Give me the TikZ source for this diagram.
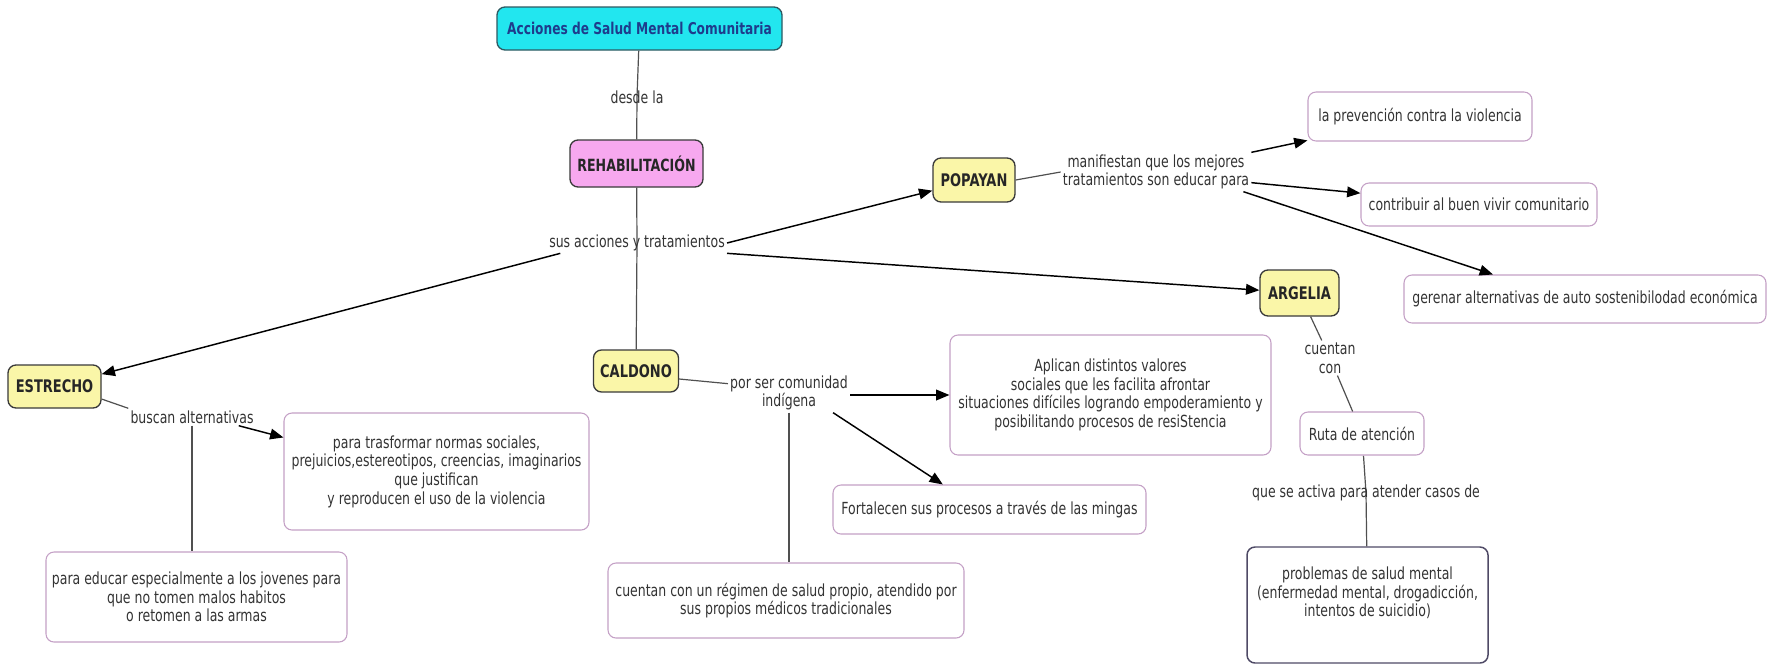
\documentclass[tikz,border=0pt]{standalone}
\usepackage{fontspec}
\setmainfont{DejaVu Sans}[FakeStretch=0.75]
\usetikzlibrary{arrows.meta,backgrounds}
\definecolor{txt}{HTML}{333333}
\definecolor{cyanc}{HTML}{22E6EF}
\definecolor{topline}{HTML}{2E5A62}
\definecolor{topblue}{HTML}{1E3C8C}
\definecolor{pinkc}{HTML}{F7A8EF}
\definecolor{yell}{HTML}{FAF6A8}
\definecolor{darkline}{HTML}{3A3A3A}
\definecolor{boxline}{HTML}{C4A0C6}
\definecolor{probline}{HTML}{4F4A66}
\definecolor{linec}{HTML}{505050}
\begin{document}
\begin{tikzpicture}[x=0.75pt,y=-0.75pt,
  every node/.style={font=\fontsize{12.5}{14}\selectfont, text=txt},
  box/.style={draw=boxline, line width=0.8pt, rounded corners=6pt, fill=white, align=center, inner sep=2pt},
  place/.style={draw=darkline, line width=1pt, rounded corners=6pt, fill=yell, font=\fontsize{13}{15}\selectfont\bfseries, text=black!85, inner sep=0pt},
  lbl/.style={inner sep=1.5pt, align=center},
  link/.style={draw=linec, line width=0.9pt},
  arr/.style={draw=black, line width=1.1pt, -{Triangle[length=10pt,width=8pt]}}
]
\useasboundingbox (0,0) rectangle (1773,665);

% main nodes
\node[draw=topline, fill=cyanc, line width=1pt, rounded corners=6pt, font=\fontsize{12.2}{14}\selectfont\bfseries, text=topblue, minimum width=213.75pt, minimum height=32.25pt, inner sep=0pt] (top) at (639.5,28.5) {Acciones de Salud Mental Comunitaria};
\node[place, fill=pinkc, font=\fontsize{12.6}{15}\selectfont\bfseries, minimum width=99.75pt, minimum height=35.25pt] (rehab) at (636.5,163.5) {REHABILITACIÓN};
\node[place, minimum width=69.75pt, minimum height=32.25pt] (estrecho) at (54.5,386.5) {ESTRECHO};
\node[place, minimum width=63.75pt, minimum height=31.5pt] (caldono) at (636,371) {CALDONO};
\node[place, minimum width=61.5pt, minimum height=33pt] (popayan) at (974,180) {POPAYAN};
\node[place, minimum width=59.25pt, minimum height=34.5pt] (argelia) at (1299.5,293) {ARGELIA};

% concept boxes
\node[box, minimum width=228.75pt, minimum height=87.75pt] (trans) at (436.5,471.5) {para trasformar normas sociales,\\prejuicios,estereotipos, creencias, imaginarios\\que justifican\\y reproducen el uso de la violencia};
\node[box, minimum width=225.75pt, minimum height=67.5pt] (educar) at (196.5,597) {para educar especialmente a los jovenes para\\que no tomen malos habitos\\o retomen a las armas};
\node[box, minimum width=240.75pt, minimum height=90pt] (aplican) at (1110.5,395) {Aplican distintos valores\\sociales que les facilita afrontar\\situaciones difíciles logrando empoderamiento y\\posibilitando procesos de resiStencia};
\node[box, minimum width=234.75pt, minimum height=36.75pt] (fort) at (989.5,509.5) {Fortalecen sus procesos a través de las mingas};
\node[box, minimum width=267pt, minimum height=56.25pt] (regimen) at (786,600.5) {cuentan con un régimen de salud propio, atendido por\\sus propios médicos tradicionales};
\node[box, minimum width=168pt, minimum height=36.75pt] (prev) at (1420,116.5) {la prevención contra la violencia};
\node[box, minimum width=177pt, minimum height=32.25pt] (contrib) at (1479,204.5) {contribuir al buen vivir comunitario};
\node[box, minimum width=271.5pt, minimum height=36pt] (gerenar) at (1585,299) {gerenar alternativas de auto sostenibilodad económica};
\node[box, minimum width=93pt, minimum height=32.25pt] (ruta) at (1362,433.5) {Ruta de atención};
\node[box, draw=probline, line width=1.1pt, minimum width=180.75pt, minimum height=87pt] (problemas) at (1367.5,605) {problemas de salud mental\\(enfermedad mental, drogadicción,\\intentos de suicidio)\\[6pt]\mbox{}};

% link labels
\node[lbl] (desde) at (637,97) {desde la};
\node[lbl] (sus) at (637,243) {sus acciones y tratamientos};
\node[lbl] (buscan) at (192,417) {buscan alternativas};
\node[lbl] (porser) at (789,393) {por ser comunidad\\indígena};
\node[lbl] (manif) at (1156,172) {manifiestan que los mejores\\tratamientos son educar para};
\node[lbl] (cuentan) at (1330,358) {cuentan\\con};
\node[lbl] (activa) at (1366,493) {que se activa para atender casos de};

% connectors
\begin{pgfonlayer}{background}
\fill[white] (0,0) rectangle (1773,665);
\draw[link] (top) -- (desde.center) -- (rehab);
\draw[link] (rehab) -- (sus.center) -- (caldono);
\draw[link] (ruta) -- (activa.center) -- (problemas);
\end{pgfonlayer}
\draw[arr] ([xshift=10pt]sus.south west) -- (estrecho);
\draw[arr] (sus.east) -- (popayan);
\draw[arr] (sus.south east) -- (argelia);

\draw[link] ([yshift=-9.4pt]estrecho.east) -- (buscan.north west);
\draw[arr] ([xshift=-12.75pt]buscan.south east) -- ([yshift=-18.75pt]trans.north west);
\draw[link] (buscan.south) -- (buscan.south |- educar.north);

\draw[link] ([yshift=-6pt]caldono.east) -- ([yshift=7pt]porser.west);
\draw[arr] (porser.east |- aplican.west) -- (aplican.west);
\draw[arr] ([xshift=-12.75pt]porser.south east) -- ([xshift=-35pt]fort.north);
\draw[link] (porser.south) -- (porser.south |- regimen.north);

\draw[link] (popayan.east) -- (manif.west);
\draw[arr] (manif.north east) -- (prev);
\draw[arr] ([yshift=-8pt]manif.east) -- (contrib);
\draw[arr] ([xshift=-6pt]manif.south east) -- ([xshift=-69pt]gerenar.north);

\draw[link] (argelia) -- (cuentan);
\draw[link] (cuentan) -- (ruta);
\end{tikzpicture}
\end{document}
